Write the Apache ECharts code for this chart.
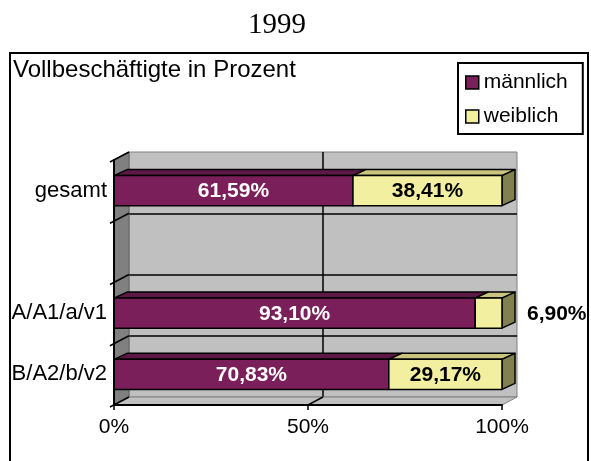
<!DOCTYPE html>
<html>
<head>
<meta charset="utf-8">
<script src="https://cdn.jsdelivr.net/npm/echarts@6/dist/echarts.min.js"></script>
<style>
  html, body { margin: 0; padding: 0; background: #fff; }
  #main { width: 591px; height: 461px; }
</style>
</head>
<body>
<div id="main"></div>
<script>
// Daten
var categories = ['gesamt', '', 'A/A1/a/v1', 'B/A2/b/v2'];
var maleValues = [61.59, null, 93.10, 70.83];
var femaleValues = [38.41, null, 6.90, 29.17];
var seriesNames = ['männlich', 'weiblich'];
var xTicks = { min: 0, max: 100, step: 50 };

var FONT = "'Liberation Sans', Arial, sans-serif";
// 3D-Versatz (Wand / Balken)
var WDX = 15, WDY = -8;
var BDX = 13, BDY = -6;

var faceColors = [
    { front: '#7A1F5A', top: '#5E1845', side: '#4A1236', text: '#fff' },
    { front: '#F2EFA0', top: '#C9C57F', side: '#808050', text: '#000' }
];

function fmt(v) {
    return v.toFixed(2).replace('.', ',') + '%';
}

// Balken-Daten: [start, ende, kategorie]
var maleData = [], femaleData = [];
for (var i = 0; i < categories.length; i++) {
    if (maleValues[i] == null) continue;
    maleData.push([0, maleValues[i], i]);
    femaleData.push([maleValues[i], maleValues[i] + femaleValues[i], i]);
}

function barItem(idx) {
    return function (params, api) {
        var start = api.value(0), end = api.value(1), cat = api.value(2);
        var p0 = api.coord([start, cat]);
        var p1 = api.coord([end, cat]);
        var band = api.size([0, 1])[1];
        var h = band * 0.49;
        var top = p0[1] - h / 2, bot = p0[1] + h / 2;
        var x0 = p0[0], x1 = p1[0];
        var c = faceColors[idx];
        var stroke = { stroke: '#000', lineWidth: 1.5, lineJoin: 'round' };
        var val = idx === 0 ? maleValues[cat] : femaleValues[cat];
        var narrow = (x1 - x0) < 45;
        return {
            type: 'group',
            children: [
                { type: 'polygon', shape: { points: [[x0, top], [x1, top], [x1 + BDX, top + BDY], [x0 + BDX, top + BDY]] },
                  style: Object.assign({ fill: c.top }, stroke) },
                { type: 'polygon', shape: { points: [[x1, top], [x1 + BDX, top + BDY], [x1 + BDX, bot + BDY], [x1, bot]] },
                  style: Object.assign({ fill: c.side }, stroke) },
                { type: 'rect', shape: { x: x0, y: top, width: x1 - x0, height: h },
                  style: Object.assign({ fill: c.front }, stroke) },
                { type: 'text', z2: 10,
                  x: narrow ? x1 + BDX + 12 : (x0 + x1) / 2, y: p0[1] + 1,
                  style: { text: fmt(val), fill: narrow ? '#000' : c.text, font: 'bold 21px ' + FONT,
                           align: narrow ? 'left' : 'center', verticalAlign: 'middle' } }
            ]
        };
    };
}

// Seitenwand und Boden
function wallItem(params, api) {
    var cs = params.coordSys;
    var xl = cs.x, xr = cs.x + cs.width, yt = cs.y, yb = cs.y + cs.height;
    var band = api.size([0, 1])[1];
    var mid = api.coord([50, 0])[0];
    var children = [
        { type: 'polygon', shape: { points: [[xl, yt], [xl + WDX, yt + WDY], [xl + WDX, yb + WDY], [xl, yb]] },
          style: { fill: '#808080', stroke: '#606060', lineWidth: 1 } },
        { type: 'polygon', shape: { points: [[xl, yb], [xr, yb], [xr + WDX, yb + WDY], [xl + WDX, yb + WDY]] },
          style: { fill: '#C0C0C0', stroke: '#808080', lineWidth: 1 } },
        { type: 'line', shape: { x1: mid, y1: yb, x2: mid + WDX, y2: yb + WDY },
          style: { stroke: '#000', lineWidth: 1.5 } }
    ];
    for (var k = 0; k <= categories.length; k++) {
        var y = yt + k * band;
        children.push({ type: 'line', shape: { x1: xl - 4, y1: y + 2, x2: xl + WDX, y2: y + WDY },
            style: { stroke: '#000', lineWidth: 1.5 } });
    }
    return { type: 'group', children: children };
}

var myChart = echarts.init(document.getElementById('main'));
var option = {
    backgroundColor: '#fff',
    animation: false,
    title: [
        { text: '1999', left: 248, top: 11, padding: 0,
          textStyle: { fontFamily: "'Liberation Serif', 'Times New Roman', serif", fontSize: 29, fontWeight: 'normal', color: '#000' } },
        { text: 'Vollbeschäftigte in Prozent', left: 13, top: 58, padding: 0,
          textStyle: { fontFamily: FONT, fontSize: 24, fontWeight: 'normal', color: '#000' } }
    ],
    graphic: [
        { type: 'rect', z: -1, shape: { x: 10, y: 53, width: 578, height: 430 },
          style: { fill: 'none', stroke: '#000', lineWidth: 2 } }
    ],
    legend: {
        data: seriesNames,
        orient: 'vertical',
        left: 458, top: 63,
        padding: [9, 15, 7, 7],
        itemGap: 13,
        itemWidth: 13, itemHeight: 13,
        icon: 'rect',
        backgroundColor: '#fff',
        borderColor: '#000', borderWidth: 2,
        itemStyle: { borderColor: '#000', borderWidth: 1.5 },
        textStyle: { fontFamily: FONT, fontSize: 21, color: '#000', lineHeight: 21 }
    },
    grid: [
        { left: 114, top: 160, width: 388, height: 245 },
        { left: 114 + WDX, top: 160 + WDY, width: 388, height: 245,
          show: true, backgroundColor: '#C0C0C0', borderColor: '#808080', borderWidth: 1 }
    ],
    xAxis: [
        { type: 'value', gridIndex: 0, min: xTicks.min, max: xTicks.max, interval: xTicks.step, z: 5,
          axisLine: { show: true, lineStyle: { color: '#000', width: 2 } },
          axisTick: { show: true, length: 5, lineStyle: { color: '#000', width: 1.5 } },
          axisLabel: { formatter: '{value}%', fontFamily: FONT, fontSize: 21, color: '#000', margin: 12 },
          splitLine: { show: false } },
        { type: 'value', gridIndex: 1, min: xTicks.min, max: xTicks.max, interval: xTicks.step,
          axisLine: { show: false }, axisTick: { show: false }, axisLabel: { show: false },
          splitLine: { show: true, showMinLine: false, showMaxLine: false, lineStyle: { color: '#000', width: 1.5 } } }
    ],
    yAxis: [
        { type: 'category', gridIndex: 0, data: categories, inverse: true, z: 5,
          axisLine: { show: true, lineStyle: { color: '#000', width: 2 } },
          axisTick: { show: false },
          axisLabel: { fontFamily: FONT, fontSize: 22, color: '#000', margin: 7 } },
        { type: 'category', gridIndex: 1, data: categories, inverse: true,
          axisLine: { show: false }, axisTick: { show: false }, axisLabel: { show: false },
          splitLine: { show: true, interval: 0, showMinLine: false, showMaxLine: false, lineStyle: { color: '#000', width: 1.5 } } }
    ],
    series: [
        { type: 'custom', name: 'walls', xAxisIndex: 0, yAxisIndex: 0, z: 1, silent: true,
          renderItem: wallItem, encode: { x: 0, y: 1 }, data: [[0, 0]] },
        { type: 'custom', name: seriesNames[0], xAxisIndex: 0, yAxisIndex: 0, z: 2,
          itemStyle: { color: faceColors[0].front },
          renderItem: barItem(0), encode: { x: [0, 1], y: 2 }, data: maleData },
        { type: 'custom', name: seriesNames[1], xAxisIndex: 0, yAxisIndex: 0, z: 3,
          itemStyle: { color: faceColors[1].front },
          renderItem: barItem(1), encode: { x: [0, 1], y: 2 }, data: femaleData }
    ]
};
myChart.setOption(option);
</script>
</body>
</html>
